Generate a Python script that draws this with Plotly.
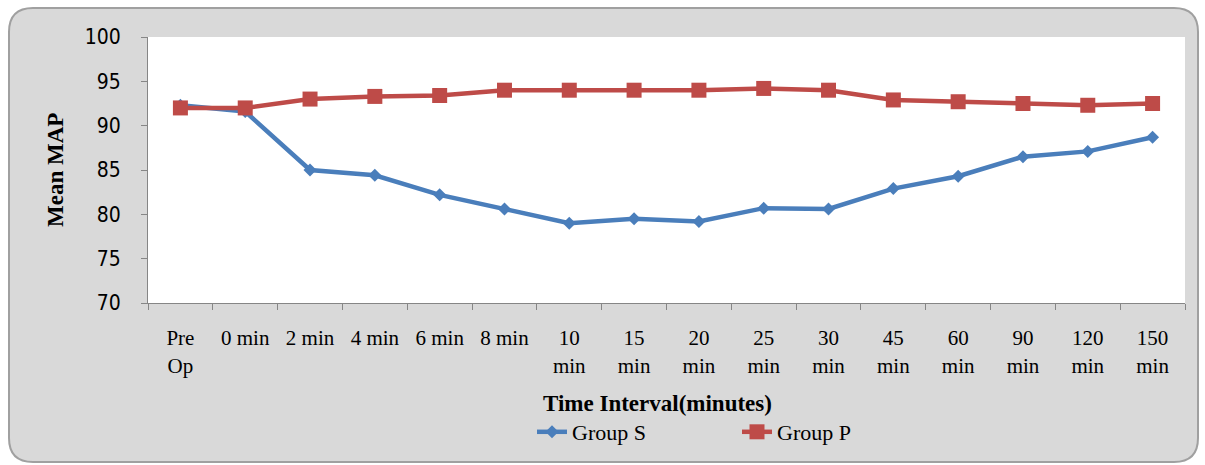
import plotly.graph_objects as go

categories = ["Pre<br>Op", "0 min", "2 min", "4 min", "6 min", "8 min",
              "10<br>min", "15<br>min", "20<br>min", "25<br>min", "30<br>min",
              "45<br>min", "60<br>min", "90<br>min", "120<br>min", "150<br>min"]
group_s = [92.3, 91.6, 85.0, 84.4, 82.2, 80.6, 79.0, 79.5, 79.2, 80.7, 80.6,
           82.9, 84.3, 86.5, 87.1, 88.7]
group_p = [92.0, 92.0, 93.0, 93.3, 93.4, 94.0, 94.0, 94.0, 94.0, 94.2, 94.0,
           92.9, 92.7, 92.5, 92.3, 92.5]
y_ticks = [70, 75, 80, 85, 90, 95, 100]

W, H = 1205, 465
L, R, T, B = 148, 20, 37, 162
PW, PH = W - L - R, H - T - B

def px(x):
    return (x - L) / PW

def py(y):
    return (H - B - y) / PH

def rounded_path(x0, y0, x1, y1, r):
    pts = [
        f"M {px(x0 + r)},{py(y0)}",
        f"L {px(x1 - r)},{py(y0)}",
        f"Q {px(x1)},{py(y0)} {px(x1)},{py(y0 + r)}",
        f"L {px(x1)},{py(y1 - r)}",
        f"Q {px(x1)},{py(y1)} {px(x1 - r)},{py(y1)}",
        f"L {px(x0 + r)},{py(y1)}",
        f"Q {px(x0)},{py(y1)} {px(x0)},{py(y1 - r)}",
        f"L {px(x0)},{py(y0 + r)}",
        f"Q {px(x0)},{py(y0)} {px(x0 + r)},{py(y0)}",
        "Z",
    ]
    return " ".join(pts)

serif = "Liberation Serif, Times New Roman, serif"
sans = "DejaVu Sans Condensed, Liberation Sans, sans-serif"

fig = go.Figure()
fig.add_trace(go.Scatter(
    x=categories, y=group_s, name="Group S", mode="lines+markers",
    line=dict(color="#4a7ebb", width=4.5),
    marker=dict(symbol="diamond", size=10, color="#4a7ebb"),
))
fig.add_trace(go.Scatter(
    x=categories, y=group_p, name="Group P", mode="lines+markers",
    line=dict(color="#be4b48", width=4.5),
    marker=dict(symbol="square", size=15, color="#be4b48"),
))

fig.update_layout(
    width=W, height=H,
    margin=dict(l=L, r=R, t=T, b=B, pad=0),
    paper_bgcolor="white",
    plot_bgcolor="rgba(0,0,0,0)",
    showlegend=True,
    legend=dict(
        orientation="h", x=px(532), xanchor="left", y=py(432), yanchor="middle",
        font=dict(family=serif, size=22, color="black"),
        bgcolor="rgba(0,0,0,0)", entrywidth=160, entrywidthmode="pixels",
    ),
    shapes=[
        dict(type="path", xref="paper", yref="paper", layer="below",
             path=rounded_path(9, 8, 1198, 462, 24),
             fillcolor="#d9d9d9", line=dict(color="#a0a0a0", width=2)),
        dict(type="rect", xref="paper", yref="paper", layer="below",
             x0=0, x1=1, y0=0, y1=1, fillcolor="white", line=dict(width=0)),
    ],
    annotations=[
        dict(text="<b>Time Interval(minutes)</b>", xref="paper", yref="paper",
             x=px(657), y=py(403), xanchor="center", yanchor="middle",
             showarrow=False, font=dict(family=serif, size=23, color="black")),
        dict(text="<b>Mean MAP</b>", xref="paper", yref="paper",
             x=px(55), y=py(170), xanchor="center", yanchor="middle",
             textangle=-90, showarrow=False,
             font=dict(family=serif, size=23, color="black")),
    ],
)

fig.update_xaxes(
    type="category", range=[-0.5, len(categories) - 0.5],
    showline=True, linecolor="#868686", linewidth=1,
    ticks="outside", ticklen=6, tickcolor="#868686", tickson="boundaries",
    showgrid=False, zeroline=False,
    tickfont=dict(family=serif, size=21, color="black"),
    ticklabelstandoff=16,
)
fig.update_yaxes(
    range=[70, 100], tickvals=y_ticks,
    showline=True, linecolor="#868686", linewidth=1,
    ticks="outside", ticklen=6, tickcolor="#868686",
    showgrid=False, zeroline=False,
    tickfont=dict(family=sans, size=21, color="black"),
    ticklabelstandoff=16,
)

fig.write_html("out.html")
